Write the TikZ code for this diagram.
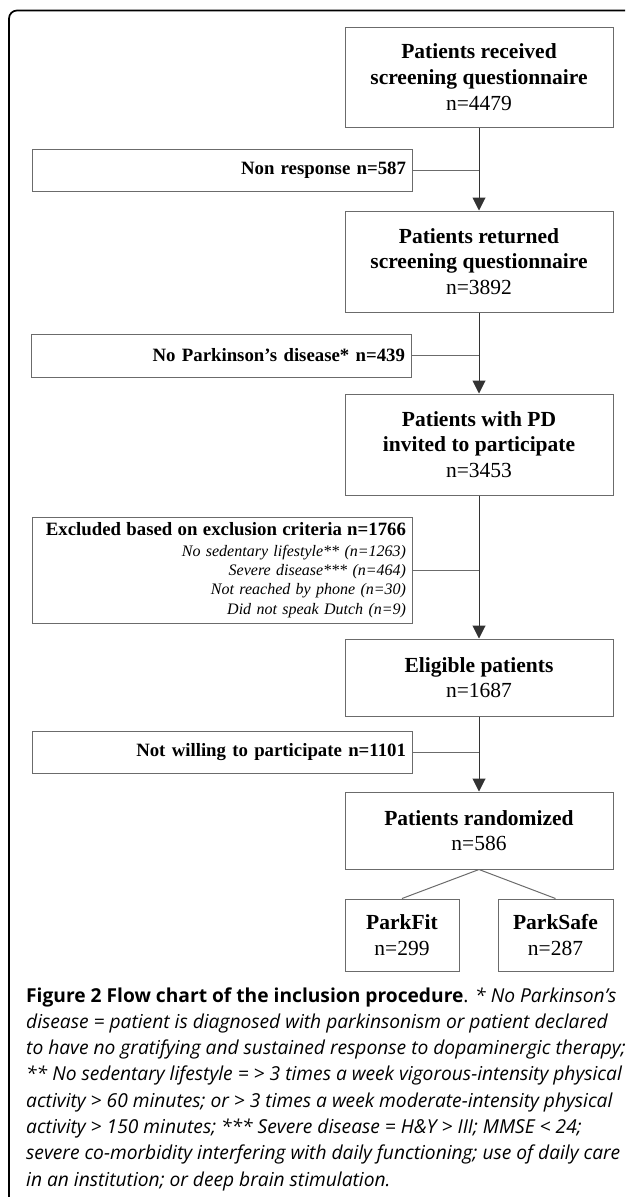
\documentclass[tikz,border=0pt]{standalone}
\usepackage{fontspec}
\setmainfont{Liberation Serif}
\newfontfamily\capfont{Open Sans}
\usetikzlibrary{arrows.meta}
\definecolor{boxgray}{gray}{0.42}
\definecolor{flowgray}{gray}{0.2}
\begin{document}
\begin{tikzpicture}[x=1pt,y=-1pt,
  mainbox/.style={draw=boxgray,line width=1pt,minimum width=268pt,inner sep=0pt,align=center,font=\fontsize{21.5}{25.7}\selectfont},
  sidebox/.style={draw=boxgray,line width=1pt,minimum width=380pt,text width=368pt,inner xsep=6pt,inner ysep=0pt,align=right,font=\fontsize{18.8}{22}\selectfont\bfseries},
  flow/.style={draw=flowgray,line width=1pt,-{Triangle[length=13pt,width=13pt]}},
  branch/.style={draw=boxgray,line width=1pt},
  capline/.style={anchor=base west,inner sep=0pt,font=\capfont\fontsize{19.2}{26}\selectfont},
  frame/.style={draw=black,line width=1.7pt,rounded corners=8pt}
]
\useasboundingbox (0,0) rectangle (625,1197);
% outer frame
\coordinate (fa) at (9,1197);
\coordinate (fb) at (9,10.5);
\coordinate (fc) at (625,10.5);
\draw[frame] (fa) -- (fb) -- (fc);

% main column
\node[mainbox,minimum height=100pt] (b1) at (479,77) {\textbf{Patients received}\\\textbf{screening questionnaire}\\n=4479};
\node[mainbox,minimum height=101pt] (b2) at (479,261.5) {\textbf{Patients returned}\\\textbf{screening questionnaire}\\n=3892};
\node[mainbox,minimum height=101pt] (b3) at (479,444.5) {\textbf{Patients with PD}\\\textbf{invited to participate}\\n=3453};
\node[mainbox,minimum height=77pt] (b4) at (479,677.5) {\textbf{Eligible patients}\\n=1687};
\node[mainbox,minimum height=77pt] (b5) at (479,830.5) {\textbf{Patients randomized}\\n=586};
\node[mainbox,minimum width=114pt,minimum height=72pt] (pf) at (402,935) {\textbf{ParkFit}\\n=299};
\node[mainbox,minimum width=115pt,minimum height=72pt] (ps) at (555.5,935) {\textbf{ParkSafe}\\n=287};

% side boxes
\node[sidebox,minimum height=42pt] (nr) at (222,170) {Non response n=587};
\node[sidebox,minimum height=43pt] (npd) at (221,355.5) {No Parkinson’s disease* n=439};
\node[sidebox,minimum height=106pt,font=\fontsize{16}{19.3}\selectfont] (exc) at (222,570) {{\fontsize{18.8}{19.3}\selectfont\bfseries Excluded based on exclusion criteria n=1766}\\[1.7pt]\itshape No sedentary lifestyle** (n=1263)\\Severe disease*** (n=464)\\Not reached by phone (n=30)\\Did not speak Dutch (n=9)};
\node[sidebox,minimum height=42pt] (nw) at (222,752) {Not willing to participate n=1101};

% connectors
\draw[flow] (b1) -- (b2);
\draw[flow] (b2) -- (b3);
\draw[flow] (b3) -- (b4);
\draw[flow] (b4) -- (b5);
\draw[branch] (nr.east) -- (nr.east -| b1.south);
\draw[branch] (npd.east) -- (npd.east -| b2.south);
\draw[branch] (exc.east) -- (exc.east -| b3.south);
\draw[branch] (nw.east) -- (nw.east -| b4.south);
\draw[branch] (b5.south) -- (pf.north);
\draw[branch] (b5.south) -- (ps.north);

% caption
\node[capline] (cap1) at (26,1002) {\textbf{Figure 2 Flow chart of the inclusion procedure}. \textit{* No Parkinson’s}};
\node[capline] (cap2) at (26,1028.3) {\textit{disease = patient is diagnosed with parkinsonism or patient declared}};
\node[capline] (cap3) at (26,1054.6) {\textit{to have no gratifying and sustained response to dopaminergic therapy;}};
\node[capline] (cap4) at (26,1080.9) {\textit{** No sedentary lifestyle = > 3 times a week vigorous-intensity physical}};
\node[capline] (cap5) at (26,1107.2) {\textit{activity > 60 minutes; or > 3 times a week moderate-intensity physical}};
\node[capline] (cap6) at (26,1133.5) {\textit{activity > 150 minutes; *** Severe disease = H\&Y > III; MMSE < 24;}};
\node[capline] (cap7) at (26,1159.8) {\textit{severe co-morbidity interfering with daily functioning; use of daily care}};
\node[capline] (cap8) at (26,1186.1) {\textit{in an institution; or deep brain stimulation.}};
\end{tikzpicture}
\end{document}
